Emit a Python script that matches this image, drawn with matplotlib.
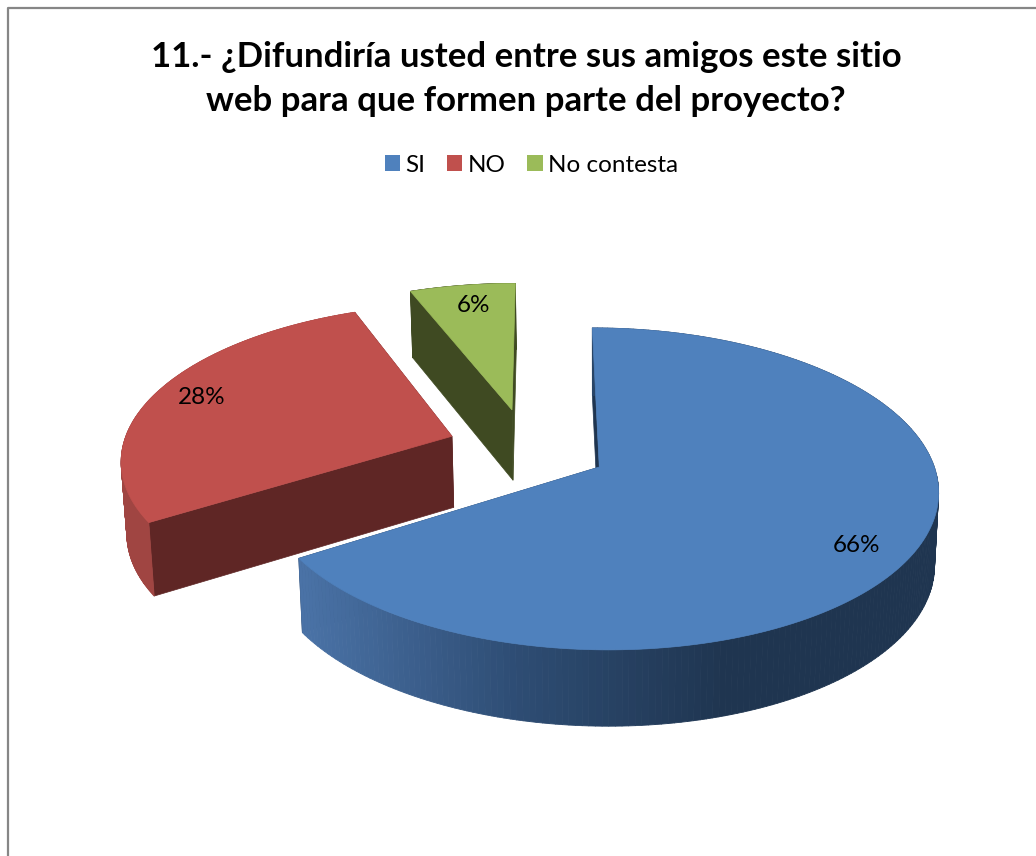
import numpy as np
from matplotlib import pyplot as plt
from matplotlib.collections import PolyCollection
from matplotlib.colors import LinearSegmentedColormap
from matplotlib.patches import Patch, Polygon

title = "11.- ¿Difundiría usted entre sus amigos este sitio\nweb para que formen parte del proyecto?"
categories = ["SI", "NO", "No contesta"]
shares = [66, 28, 6]
top_colors = ["#4F81BD", "#C0504D", "#9BBB59"]
cut_colors = ["#1F3550", "#5F2625", "#3F4A22"]
rim_colors = [["#4A72A6", "#2E4D74", "#1F3550", "#1F3550"], ["#A04542", "#A04542"], ["#3F4A22", "#3F4A22"]]

# how far each slice is pulled out of the pie, in pie radii
explode_x = [0.0, -0.447, -0.265]
explode_y = [0.0, 0.2, 0.38]
label_pos = [(856, 545), (202, 397), (473, 306)]

# fake 3d view, the numbers are pixels of the figure
VX, KX, X0 = 541, 335, 0.174
CY, QY, P = 467, 158, 0.136
DEPTH = 72


def project(x, y):
    w = 1 + P * y
    return VX + KX * (x + X0) / w, CY - QY * y / w


def lower(sx, sy, y):
    return sx + (597 - sx) * 0.012, sy + DEPTH * (1 - 0.06 * y)


plt.rcParams['font.family'] = ['Lato', 'DejaVu Sans']
fig = plt.figure(figsize=(10.36, 8.56), dpi=100)
ax = fig.add_axes([0, 0, 1, 1])
ax.set_xlim(0, 1036)
ax.set_ylim(856, 0)
ax.axis('off')

ax.plot([8, 8, 1040], [860, 8, 8], color="#868686", lw=1.6)

starts = np.cumsum([0] + shares[:-1]) / sum(shares) * 2 * np.pi
sweeps = np.array(shares) / sum(shares) * 2 * np.pi

for i in [1, 2, 0]:
    theta = np.linspace(starts[i], starts[i] + sweeps[i], 240)
    x = explode_x[i] + np.sin(theta)
    y = explode_y[i] + np.cos(theta)
    sx, sy = project(x, y)
    bx, by = lower(sx, sy, y)
    ax_, ay_ = project(explode_x[i], explode_y[i])
    abx, aby = lower(ax_, ay_, explode_y[i])

    # the two cut faces go first, the rim has to cover them on the big slice
    for k in [0, -1]:
        face = [(ax_, ay_), (sx[k], sy[k]), (bx[k], by[k]), (abx, aby)]
        ax.add_patch(Polygon(face, closed=True, facecolor=cut_colors[i], edgecolor=cut_colors[i], lw=0.5, zorder=2))

    # outer rim, small quads so it can carry the gradient
    cmap = LinearSegmentedColormap.from_list("rim", rim_colors[i])
    quads = []
    cols = []
    for j in range(len(theta) - 1):
        quads.append([(sx[j], sy[j]), (sx[j + 1], sy[j + 1]), (bx[j + 1], by[j + 1]), (bx[j], by[j])])
        cols.append(cmap(np.clip((sx[j] - 305) / 635, 0, 1)))
    ax.add_collection(PolyCollection(quads, facecolors=cols, edgecolors=cols, linewidths=0.6, zorder=3))

    top = np.column_stack([np.r_[ax_, sx], np.r_[ay_, sy]])
    ax.add_patch(Polygon(top, closed=True, facecolor=top_colors[i], edgecolor=top_colors[i], lw=0.5, zorder=4))

    ax.text(label_pos[i][0], label_pos[i][1], "%d%%" % shares[i], ha='center', va='center',
            fontsize=17.5, color='black', zorder=5)

ax.text(526, 79, title, ha='center', va='center', fontsize=25, fontweight='bold',
        linespacing=1.43, color='black')

handles = [Patch(facecolor=c, edgecolor='none') for c in top_colors]
ax.legend(handles, categories, loc='center', bbox_to_anchor=(531.5 / 1036, 1 - 165 / 856), ncol=3,
          frameon=False, fontsize=17.5, handlelength=0.62, handleheight=0.62, handletextpad=0.22,
          columnspacing=0.9, borderpad=0)

fig.savefig('out.png', dpi=100)
